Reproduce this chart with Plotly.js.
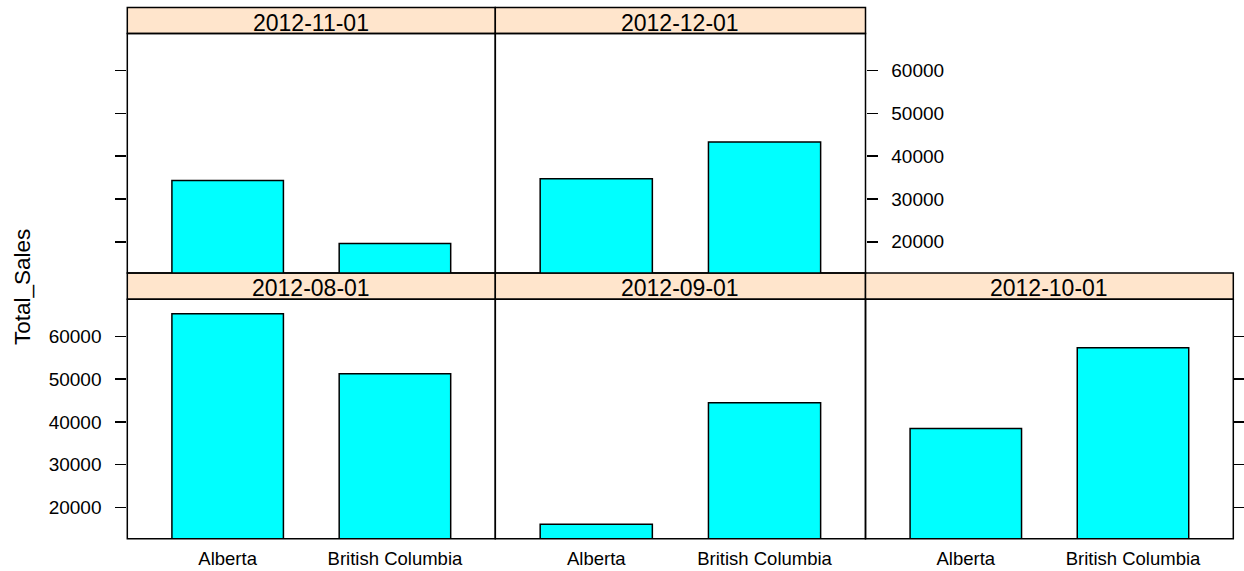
<!DOCTYPE html>
<html>
<head>
<meta charset="utf-8">
<script src="https://cdn.plot.ly/plotly-3.0.1.min.js"></script>
<style>html,body{margin:0;padding:0;background:#fff;}#chart{width:1244px;height:571px;}</style>
</head>
<body>
<div id="chart"></div>
<script>
// ---- data ----
const months = ['2012-08-01', '2012-09-01', '2012-10-01', '2012-11-01', '2012-12-01'];
const provinces = ['Alberta', 'British Columbia'];
const albertaSales = [65300, 16100, 38500, 34300, 34750];
const britishColumbiaSales = [51300, 44500, 57350, 19600, 43350];
const yTickValues = [20000, 30000, 40000, 50000, 60000];
const yTickLabels = ['20000', '30000', '40000', '50000', '60000'];
const yTitle = 'Total_Sales';

// ---- layout geometry (pixels) ----
const W = 1244, H = 571;
const fx = x => x / W;
const fy = y => 1 - y / H;
const FONT = 'Liberation Sans, Arial, sans-serif';
// panel boxes: [left, right, top, bottom]
const panels = [
  {box: [127.3, 495.3, 299.3, 538.7], ySide: 'left',  yTicks: true,  yLabels: true,  xLabels: true,  strip: [273, 299.3]},
  {box: [495.3, 865.5, 299.3, 538.7], ySide: 'left',  yTicks: false, yLabels: false, xLabels: true,  strip: [273, 299.3]},
  {box: [865.5, 1233.3, 299.3, 538.7], ySide: 'right', yTicks: true,  yLabels: false, xLabels: true,  strip: [273, 299.3]},
  {box: [127.3, 495.3, 33.5, 273], ySide: 'left',  yTicks: true,  yLabels: false, xLabels: false, strip: [7.5, 33.5]},
  {box: [495.3, 865.5, 33.5, 273], ySide: 'right', yTicks: true,  yLabels: true,  xLabels: false, strip: [7.5, 33.5]}
];

const traces = [];
const layout = {
  width: W, height: H,
  margin: {l: 0, r: 0, t: 0, b: 0},
  paper_bgcolor: '#ffffff', plot_bgcolor: 'rgba(0,0,0,0)',
  showlegend: false,
  bargap: 1 / 3,
  font: {family: FONT, color: '#000000'},
  shapes: [], annotations: []
};

months.forEach((m, i) => {
  const n = i + 1;
  const p = panels[i];
  const [l, r, t, b] = p.box;
  traces.push({
    type: 'bar',
    x: provinces,
    y: [albertaSales[i], britishColumbiaSales[i]],
    xaxis: 'x' + n, yaxis: 'y' + n,
    marker: {color: '#00FFFF', line: {color: '#000000', width: 1.5}},
    hoverinfo: 'x+y'
  });
  layout['xaxis' + n] = {
    domain: [fx(l), fx(r)], anchor: 'y' + n,
    type: 'category', range: [-0.6, 1.6],
    showgrid: false, zeroline: false, showline: false,
    ticks: '', showticklabels: p.xLabels,
    tickfont: {size: 18.5, family: FONT, color: '#000'},
    ticklabelstandoff: 7, fixedrange: true
  };
  layout['yaxis' + n] = {
    domain: [fy(b), fy(t)], anchor: 'x' + n,
    range: [12700, 68700],
    tickmode: 'array', tickvals: yTickValues, ticktext: yTickLabels,
    side: p.ySide,
    ticks: p.yTicks ? 'outside' : '', ticklen: 11, tickwidth: 1.5, tickcolor: '#000',
    showticklabels: p.yLabels,
    tickfont: {size: 19, family: FONT, color: '#000'},
    ticklabelstandoff: 10,
    showgrid: false, zeroline: false, showline: false, fixedrange: true
  };
  // strip
  layout.shapes.push({
    type: 'rect', xref: 'paper', yref: 'paper',
    x0: fx(l), x1: fx(r), y0: fy(p.strip[1]), y1: fy(p.strip[0]),
    fillcolor: '#FFE5CC', line: {color: '#000', width: 1.5}, layer: 'below'
  });
  // panel border
  layout.shapes.push({
    type: 'rect', xref: 'paper', yref: 'paper',
    x0: fx(l), x1: fx(r), y0: fy(b), y1: fy(t),
    fillcolor: 'rgba(0,0,0,0)', line: {color: '#000', width: 1.5}, layer: 'above'
  });
  layout.annotations.push({
    xref: 'paper', yref: 'paper',
    x: fx((l + r) / 2), y: fy((p.strip[0] + p.strip[1]) / 2 + 2),
    xanchor: 'center', yanchor: 'middle',
    text: m, showarrow: false,
    font: {size: 23, family: FONT, color: '#000'}
  });
});

layout.annotations.push({
  xref: 'paper', yref: 'paper',
  x: fx(22), y: fy(287), xanchor: 'center', yanchor: 'middle',
  text: yTitle, textangle: -90, showarrow: false,
  font: {size: 22.5, family: FONT, color: '#000'}
});

Plotly.newPlot('chart', traces, layout, {displayModeBar: false, staticPlot: true});
</script>
</body>
</html>
